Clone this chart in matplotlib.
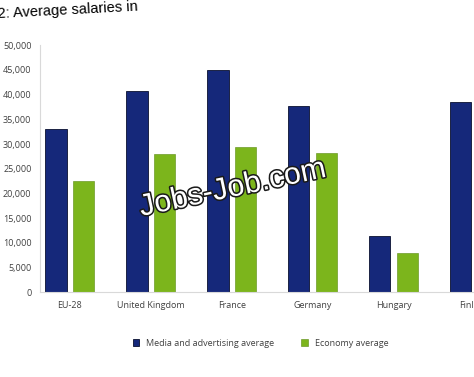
import matplotlib.pyplot as plt
import matplotlib.patheffects as pe
from numpy import arange

# values (EUR per year, approx.)
countries = ['EU-28', 'United Kingdom', 'France', 'Germany', 'Hungary', 'Finland']
media_avg = [33000, 40800, 45000, 37600, 11400, 38600]
economy_avg = [22600, 28000, 29400, 28200, 8000, 31400]
yticks = list(range(0, 50001, 5000))

blue = '#15287a'
green = '#7cb51c'

plt.rcParams['font.family'] = ['Open Sans', 'DejaVu Sans']

fig = plt.figure(figsize=(4.74, 3.77), dpi=100)
ax = fig.add_axes([0.084, 0.225, 1.02, 0.655])

x = arange(len(countries))
w = 0.26
ax.bar(x - 0.17, media_avg, w, color=blue, edgecolor='#0a1030', linewidth=0.6,
       label='Media and advertising average')
ax.bar(x + 0.17, economy_avg, w, color=green, edgecolor='#5a8a10', linewidth=0.4,
       label='Economy average')

ax.set_xlim(-0.37, 5.6)
ax.set_ylim(0, 50000)
ax.set_yticks(yticks)
ax.set_yticklabels([f'{v:,}' for v in yticks], fontsize=6.5, color='#404040')
ax.set_xticks(x)
ax.set_xticklabels(countries, fontsize=6.5, color='#404040')
ax.tick_params(length=0, pad=6)
for s in ['top', 'right']:
    ax.spines[s].set_visible(False)
for s in ['left', 'bottom']:
    ax.spines[s].set_color('#d9d9d9')

fig.legend(loc='center', bbox_to_anchor=(0.55, 0.09), ncol=2, frameon=False,
           fontsize=6.5, handlelength=0.7, handleheight=0.7, columnspacing=3,
           labelcolor='#404040')

fig.text(-0.005, 0.972, '2: Average salaries in', fontsize=10.5, va='center', ha='left',
         rotation=3, family='Liberation Sans')

fig.text(0.49, 0.5, 'Jobs-Job.com', fontsize=22, color='white', rotation=12,
         ha='center', va='center', family='Liberation Sans',
         path_effects=[pe.withStroke(linewidth=2.2, foreground='#1a1a1a')])

fig.savefig('out.png', dpi=100)
